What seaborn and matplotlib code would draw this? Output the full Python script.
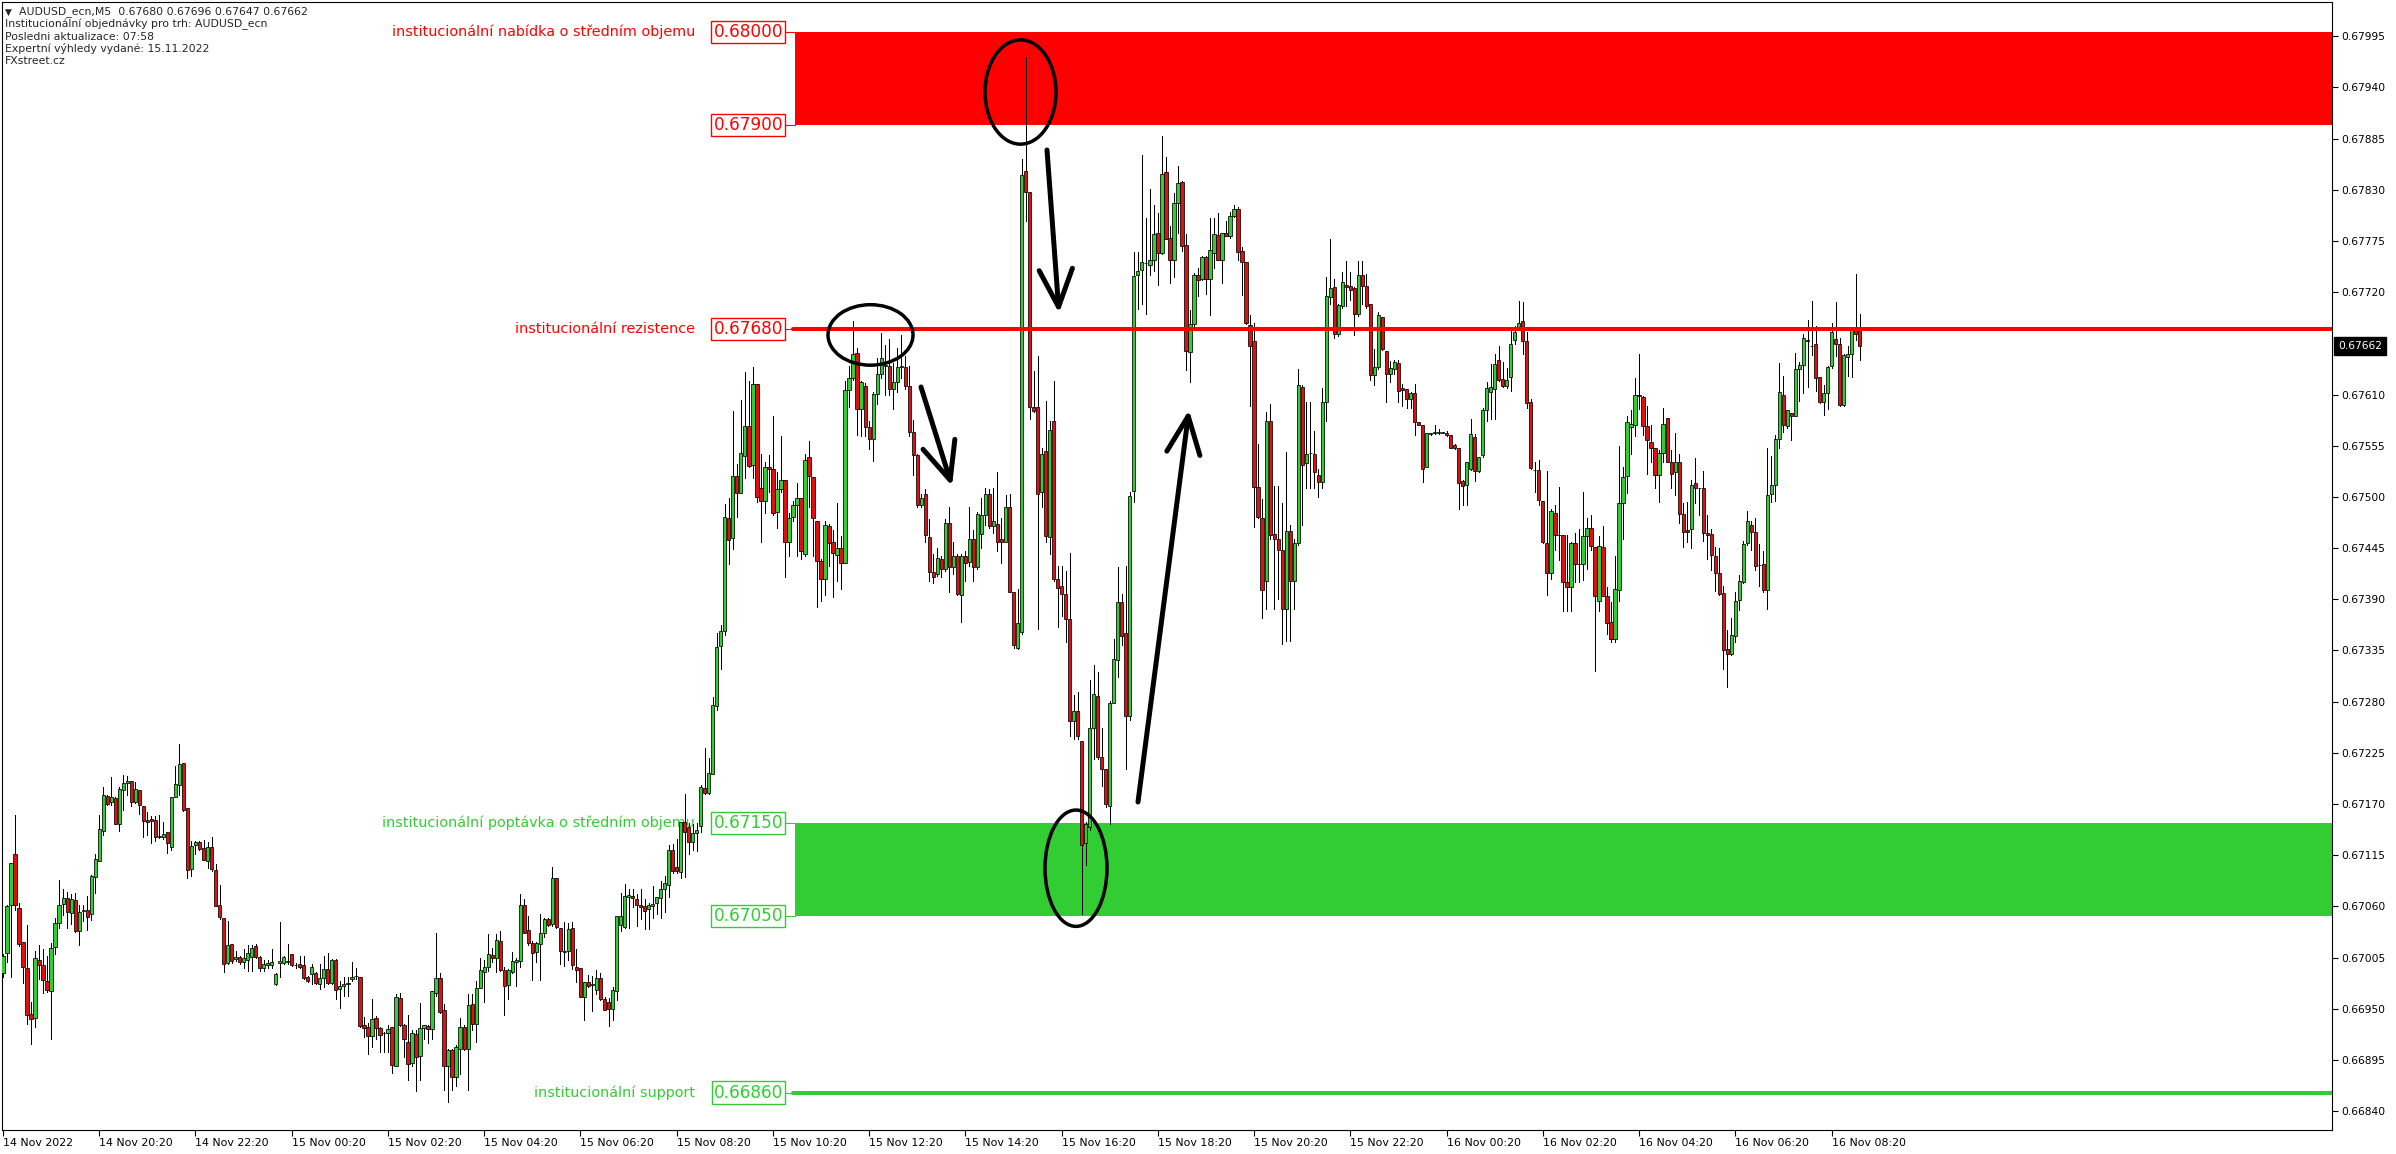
import numpy as np
import pandas as pd
import matplotlib
matplotlib.use("Agg")
import matplotlib.pyplot as plt
import matplotlib.transforms as mtransforms
from matplotlib.patches import Ellipse
import seaborn as sns

# ---------------- data (prices in points, 1 point = 0.00001) ----------------
open_pts = [
    66988,67010,67061,67116,67058,67022,66994,66944,66940,67002,
    66997,66980,66969,67016,67042,67063,67069,67053,67067,67034,
    67055,67056,67052,67092,67109,67141,67179,67172,67176,67149,
    67185,67193,67195,67172,67185,67168,67153,67154,67153,67134,
    67135,67140,67124,67178,67190,67214,67166,67100,67126,67129,
    67123,67109,67124,67099,67061,67048,66999,67020,67003,67006,
    67000,67002,67006,67017,67006,66994,66997,66997,66977,66999,
    66999,67000,67009,66997,66998,66997,66984,66987,66988,66977,
    66983,66993,66978,67002,66971,66974,66977,66982,66985,66984,
    66932,66930,66921,66940,66929,66924,66924,66930,66888,66962,
    66932,66914,66892,66923,66899,66929,66931,66928,66967,66983,
    66949,66889,66906,66877,66907,66930,66907,66955,66934,66972,
    66989,66995,67008,67004,67023,66992,66976,66990,67000,67001,
    67061,67035,67021,67011,67020,67031,67046,67041,67090,67037,
    67011,67012,67037,66995,66994,66963,66979,66975,66970,66983,
    66961,66957,66950,66969,67040,67038,67070,67071,67068,67061,
    67060,67057,67060,67064,67069,67079,67083,67121,67102,67097,
    67151,67145,67129,67139,67146,67187,67182,67202,67275,67340,
    67356,67477,67456,67522,67504,67544,67576,67534,67621,67510,
    67496,67532,67530,67484,67508,67518,67452,67478,67491,67499,
    67439,67543,67521,67474,67431,67412,67469,67452,67438,67445,
    67429,67615,67628,67655,67594,67619,67575,67562,67611,67632,
    67641,67641,67616,67623,67640,67640,67619,67570,67545,67491,
    67503,67457,67419,67417,67433,67423,67472,67425,67436,67395,
    67436,67430,67455,67425,67460,67480,67503,67469,67471,67455,
    67452,67489,67398,67338,67355,67850,67828,67597,67597,67505,
    67549,67457,67581,67412,67404,67396,67369,67259,67270,67238,
    67128,67145,67252,67286,67221,67208,67168,67278,67325,67387,
    67354,67265,67506,67738,67744,67751,67749,67755,67783,67762,
    67849,67778,67755,67816,67838,67771,67656,67686,67738,67734,
    67758,67734,67762,67781,67755,67783,67780,67802,67809,67764,
    67752,67685,67667,67511,67477,67410,67581,67460,67455,67443,
    67380,67463,67410,67450,67618,67536,67547,67546,67524,67516,
    67602,67715,67725,67675,67705,67728,67727,67724,67696,67738,
    67727,67707,67631,67640,67693,67657,67632,67637,67644,67617,
    67616,67605,67612,67580,67577,67532,67568,67569,67569,67569,
    67569,67567,67556,67552,67517,67513,67530,67564,67528,67545,
    67593,67613,67616,67647,67627,67619,67629,67669,67681,67689,
    67667,67602,67529,67529,67496,67450,67418,67483,67459,67459,
    67409,67403,67450,67428,67428,67458,67467,67446,67388,67446,
    67394,67366,67347,67400,67493,67522,67575,67577,67610,67607,
    67576,67559,67552,67523,67547,67585,67538,67527,67538,67482,
    67464,67465,67515,67509,67509,67461,67460,67437,67418,67397,
    67337,67331,67351,67389,67409,67450,67470,67462,67427,67428,
    67400,67503,67513,67562,67609,67576,67590,67587,67637,67642,
    67669,67662,67664,67629,67602,67612,67641,67670,67664,67599,
    67650,67653,67681,67680,
]
high_pts = [
    67009,67062,67107,67158,67064,67022,67040,66957,67012,67019,
    67014,67007,67021,67048,67088,67079,67075,67073,67074,67062,
    67062,67071,67094,67116,67158,67188,67180,67199,67178,67188,
    67201,67200,67195,67194,67185,67168,67161,67157,67157,67158,
    67151,67140,67178,67211,67234,67214,67166,67130,67130,67130,
    67131,67129,67134,67106,67083,67048,67044,67020,67012,67007,
    67014,67018,67019,67020,67007,67002,67002,67014,66988,67043,
    67007,67020,67009,66999,67007,67007,66985,66998,66989,66998,
    67007,67010,67003,67003,66980,66984,66984,67000,66994,66984,
    66941,66935,66960,66942,66930,66925,66932,66930,66966,66967,
    66934,66943,66927,66927,66956,66933,66932,66969,67031,66988,
    66955,66907,66907,66911,66940,66932,66966,66966,66980,67004,
    67002,67030,67015,67030,67033,66995,66993,67011,67005,67073,
    67068,67050,67023,67022,67052,67048,67047,67102,67091,67037,
    67043,67042,67043,67014,66994,66979,66986,66985,66992,66988,
    66963,66962,66973,67050,67074,67084,67079,67079,67073,67079,
    67068,67064,67082,67070,67087,67093,67126,67127,67132,67151,
    67181,67150,67148,67150,67190,67230,67219,67285,67354,67362,
    67492,67499,67592,67535,67604,67634,67625,67640,67621,67546,
    67537,67545,67587,67527,67565,67518,67483,67496,67515,67499,
    67546,67560,67521,67474,67433,67474,67471,67464,67493,67458,
    67625,67641,67689,67660,67625,67622,67581,67613,67649,67676,
    67663,67670,67644,67660,67674,67651,67641,67583,67546,67503,
    67508,67476,67439,67445,67436,67476,67489,67452,67439,67439,
    67442,67489,67464,67484,67499,67510,67508,67510,67527,67477,
    67502,67503,67398,67401,67863,67973,67828,67635,67651,67553,
    67603,67581,67625,67426,67426,67420,67440,67287,67290,67238,
    67151,67303,67319,67312,67252,67208,67281,67347,67425,67396,
    67426,67505,67763,67763,67867,67800,67831,67814,67805,67888,
    67865,67791,67827,67855,67839,67782,67701,67741,67746,67759,
    67759,67800,67800,67805,67784,67796,67806,67814,67812,67768,
    67752,67695,67687,67557,67498,67591,67600,67512,67512,67493,
    67548,67470,67455,67637,67620,67602,67602,67571,67530,67617,
    67736,67777,67734,67707,67742,67753,67742,67725,67753,67753,
    67739,67707,67659,67699,67693,67657,67646,67647,67647,67621,
    67616,67613,67621,67580,67577,67569,67569,67577,67573,67570,
    67571,67567,67557,67552,67518,67538,67584,67568,67543,67595,
    67623,67643,67653,67662,67645,67639,67679,67684,67710,67709,
    67677,67605,67538,67540,67496,67528,67487,67491,67511,67459,
    67459,67452,67461,67466,67505,67477,67480,67446,67458,67469,
    67403,67387,67437,67555,67532,67587,67593,67628,67653,67608,
    67598,67577,67553,67550,67595,67585,67550,67569,67546,67493,
    67495,67518,67542,67510,67528,67480,67466,67446,67445,67404,
    67357,67370,67398,67416,67453,67485,67474,67477,67449,67442,
    67553,67544,67566,67644,67630,67593,67590,67655,67645,67675,
    67690,67710,67684,67629,67620,67641,67687,67709,67671,67653,
    67662,67682,67740,67696,
]
low_pts = [
    66984,67000,66984,67056,67017,66978,66934,66912,66930,66982,
    66967,66968,66918,67009,67037,67051,67037,67041,67032,67018,
    67044,67035,67045,67074,67109,67137,67169,67169,67148,67141,
    67164,67180,67168,67171,67159,67135,67137,67128,67130,67133,
    67132,67117,67121,67177,67180,67162,67091,67093,67116,67121,
    67110,67101,67098,67060,67046,66989,66998,66999,67001,66998,
    66994,66991,66991,67005,66991,66991,66994,66994,66976,66984,
    66998,66998,66996,66994,66994,66982,66979,66977,66977,66971,
    66973,66977,66977,66961,66951,66964,66964,66980,66982,66930,
    66920,66901,66909,66918,66903,66904,66903,66881,66888,66931,
    66898,66873,66888,66862,66873,66918,66913,66918,66964,66945,
    66863,66850,66863,66867,66880,66906,66863,66927,66914,66972,
    66957,66991,67000,66989,66991,66943,66961,66988,66974,66995,
    67031,67018,66981,67000,66981,67027,67039,67039,67037,66998,
    66996,67002,66993,66979,66963,66938,66973,66948,66966,66959,
    66949,66931,66938,66959,67034,67037,67037,67059,67039,67046,
    67036,67036,67048,67052,67048,67054,67070,67096,67096,67091,
    67092,67116,67121,67119,67140,67181,67181,67202,67271,67315,
    67352,67428,67444,67478,67504,67520,67532,67520,67495,67451,
    67483,67505,67480,67467,67505,67414,67436,67474,67436,67433,
    67436,67489,67436,67382,67388,67395,67426,67392,67410,67401,
    67429,67597,67626,67567,67565,67565,67551,67539,67600,67628,
    67609,67609,67594,67613,67628,67616,67565,67524,67489,67489,
    67452,67410,67407,67415,67414,67420,67398,67417,67395,67366,
    67410,67426,67410,67423,67445,67470,67467,67461,67442,67429,
    67452,67398,67338,67337,67353,67796,67584,67591,67358,67489,
    67452,67439,67410,67360,67372,67344,67243,67240,67240,67052,
    67104,67142,67218,67218,67189,67167,67148,67278,67306,67341,
    67208,67260,67495,67702,67707,67696,67738,67743,67728,67761,
    67777,67730,67736,67784,67764,67636,67623,67680,67716,67733,
    67718,67695,67746,67754,67730,67780,67778,67801,67755,67717,
    67686,67598,67468,67477,67370,67380,67455,67380,67390,67342,
    67345,67345,67380,67448,67470,67509,67509,67509,67500,67509,
    67582,67707,67671,67673,67703,67705,67712,67674,67694,67707,
    67703,67626,67620,67637,67658,67602,67623,67632,67602,67598,
    67595,67595,67567,67577,67516,67532,67567,67568,67568,67569,
    67565,67553,67551,67487,67491,67491,67529,67517,67527,67543,
    67581,67584,67584,67624,67618,67617,67614,67664,67680,67653,
    67595,67530,67505,67491,67450,67395,67412,67443,67432,67377,
    67377,67377,67409,67409,67411,67423,67443,67313,67377,67394,
    67353,67344,67344,67388,67455,67504,67546,67565,67594,67566,
    67525,67537,67510,67494,67537,67537,67509,67502,67472,67446,
    67452,67445,67493,67480,67453,67433,67421,67399,67395,67315,
    67296,67330,67344,67378,67407,67448,67443,67421,67404,67398,
    67380,67494,67496,67552,67570,67574,67561,67587,67603,67612,
    67618,67652,67614,67601,67588,67594,67639,67651,67598,67598,
    67630,67629,67669,67647,
]
close_pts = [
    67007,67060,67107,67061,67020,66995,66943,66939,67005,66997,
    66981,66970,67015,67042,67062,67069,67054,67068,67034,67054,
    67056,67049,67093,67111,67143,67180,67170,67177,67149,67186,
    67193,67195,67172,67186,67169,67152,67151,67152,67134,67136,
    67138,67128,67178,67191,67213,67164,67099,67125,67129,67122,
    67110,67124,67100,67060,67049,66998,67019,67001,67006,67000,
    67004,67010,67015,67006,66994,66998,66999,67000,66987,67001,
    67006,67001,66997,66997,66995,66983,66980,66995,66978,66983,
    66993,66978,67002,66970,66974,66977,66978,66984,66985,66931,
    66929,66921,66939,66929,66922,66924,66928,66890,66963,66932,
    66917,66891,66924,66898,66929,66932,66928,66969,66983,66947,
    66889,66906,66877,66909,66930,66907,66954,66934,66972,66992,
    66995,67009,67004,67024,66992,66974,66992,67001,67002,67061,
    67031,67021,67010,67021,67031,67046,67040,67091,67038,67012,
    67012,67036,66997,66992,66963,66979,66974,66977,66983,66960,
    66949,66950,66970,67050,67050,67071,67072,67069,67061,67059,
    67055,67061,67063,67070,67079,67085,67121,67098,67098,67151,
    67140,67129,67139,67142,67188,67182,67203,67276,67339,67356,
    67478,67454,67522,67504,67547,67576,67533,67621,67500,67496,
    67532,67530,67483,67508,67518,67452,67477,67491,67499,67442,
    67540,67522,67477,67431,67412,67470,67450,67440,67445,67429,
    67615,67628,67654,67594,67623,67575,67562,67611,67632,67649,
    67642,67616,67623,67640,67640,67619,67570,67545,67491,67499,
    67459,67419,67414,67434,67423,67472,67425,67437,67396,67436,
    67429,67455,67425,67482,67480,67503,67469,67474,67452,67452,
    67489,67398,67341,67365,67846,67828,67597,67592,67503,67546,
    67458,67572,67412,67402,67396,67369,67259,67270,67243,67126,
    67148,67252,67288,67221,67208,67170,67278,67326,67387,67350,
    67265,67501,67737,67743,67752,67751,67755,67782,67762,67847,
    67777,67755,67816,67837,67770,67657,67686,67738,67733,67758,
    67734,67765,67782,67754,67783,67780,67802,67809,67763,67752,
    67687,67662,67511,67478,67400,67581,67459,67455,67443,67380,
    67463,67410,67450,67620,67534,67546,67547,67527,67516,67602,
    67716,67724,67675,67706,67731,67726,67722,67696,67738,67727,
    67705,67631,67640,67695,67659,67632,67639,67645,67614,67615,
    67605,67612,67580,67577,67530,67569,67568,67569,67569,67569,
    67566,67553,67552,67515,67512,67537,67568,67528,67543,67593,
    67617,67618,67643,67626,67619,67626,67664,67677,67687,67667,
    67601,67531,67529,67497,67451,67418,67485,67459,67459,67408,
    67403,67450,67428,67428,67458,67467,67447,67393,67447,67394,
    67364,67347,67401,67493,67521,67580,67578,67610,67608,67576,
    67561,67552,67523,67547,67578,67538,67525,67538,67482,67462,
    67462,67513,67509,67509,67461,67459,67438,67418,67396,67336,
    67331,67352,67388,67410,67449,67474,67462,67426,67427,67400,
    67502,67513,67562,67613,67577,67593,67587,67637,67642,67671,
    67667,67662,67628,67602,67612,67640,67677,67664,67599,67652,
    67653,67681,67675,67662,
]
POINT = 1e-5

time_labels = [
    "14 Nov 2022", "14 Nov 20:20", "14 Nov 22:20", "15 Nov 00:20", "15 Nov 02:20",
    "15 Nov 04:20", "15 Nov 06:20", "15 Nov 08:20", "15 Nov 10:20", "15 Nov 12:20",
    "15 Nov 14:20", "15 Nov 16:20", "15 Nov 18:20", "15 Nov 20:20", "15 Nov 22:20",
    "16 Nov 00:20", "16 Nov 02:20", "16 Nov 04:20", "16 Nov 06:20", "16 Nov 08:20",
]
bars_per_label = 24

price_tick_labels = [
    "0.66840", "0.66895", "0.66950", "0.67005", "0.67060", "0.67115", "0.67170",
    "0.67225", "0.67280", "0.67335", "0.67390", "0.67445", "0.67500", "0.67555",
    "0.67610", "0.67720", "0.67775", "0.67830", "0.67885", "0.67940", "0.67995",
]
last_price = 0.67662

supply_zone = (0.67900, 0.68000)
resistance_level = 0.67680
demand_zone = (0.67050, 0.67150)
support_level = 0.66860

supply_text = "institucionální nabídka o středním objemu"
resistance_text = "institucionální rezistence"
demand_text = "institucionální poptávka o středním objemu"
support_text = "institucionální support"

header_first = "AUDUSD_ecn,M5  0.67680 0.67696 0.67647 0.67662"
header_lines = [
    "Institucionální objednávky pro trh: AUDUSD_ecn",
    "Posledni aktualizace: 07:58",
    "Expertní výhledy vydané: 15.11.2022",
    "FXstreet.cz",
]

# ---------------- style ----------------
sns.set_theme(style="white")
plt.rcParams["font.family"] = ["DejaVu Sans"]

RED = "#ff0000"
GREEN = "#32cd32"
BULL = "#32cd32"
BEAR = "#e01010"

W, H = 2396, 1154
fig = plt.figure(figsize=(W / 100, H / 100), dpi=100)
fig.patch.set_facecolor("white")
AX_L, AX_R, AX_T, AX_B = 2, 2332, 2, 1130
ax = fig.add_axes([AX_L / W, (H - AX_B) / H, (AX_R - AX_L) / W, (AX_B - AX_T) / H])
ax.set_facecolor("white")


def px2x(px):
    return (px - 3) / 4.01


def px2y(py):
    return 0.66860 + (1092.5 - py) * 1.0745e-5


ax.set_xlim(px2x(AX_L), px2x(AX_R))
ax.set_ylim(px2y(AX_B), px2y(AX_T))

df = pd.DataFrame({
    "open": np.array(open_pts) * POINT,
    "high": np.array(high_pts) * POINT,
    "low": np.array(low_pts) * POINT,
    "close": np.array(close_pts) * POINT,
})
df["x"] = np.arange(len(df))
top = df[["open", "high", "close"]].max(axis=1)
bot = df[["open", "low", "close"]].min(axis=1)

# zones (behind candles)
zone_xmin = (795 - AX_L) / (AX_R - AX_L)
ax.axhspan(*supply_zone, xmin=zone_xmin, xmax=1, color=RED, lw=0, zorder=1)
ax.axhspan(*demand_zone, xmin=zone_xmin, xmax=1, color=GREEN, lw=0, zorder=1)

# left descriptive labels
txt_x = px2x(695)
for lvl, s, col in [(supply_zone[1], supply_text, RED), (resistance_level, resistance_text, RED),
                    (demand_zone[1], demand_text, GREEN), (support_level, support_text, GREEN)]:
    ax.text(txt_x, lvl, s, ha="right", va="center", fontsize=10.4, color=col, zorder=2)

# candles
ax.vlines(df["x"], bot, top, colors="black", linewidth=0.72, zorder=3, antialiased=False)
body_bottom = np.minimum(df["open"], df["close"])
body_h = np.maximum(np.abs(df["close"] - df["open"]), 0.3 * POINT)
colors = np.where(df["close"] >= df["open"], BULL, BEAR)
ax.bar(df["x"], body_h, bottom=body_bottom, width=0.82, color=colors,
       edgecolor="black", linewidth=0.55, zorder=4)

# horizontal levels
line_x = [px2x(793), px2x(AX_R)]
sns.lineplot(x=line_x, y=[resistance_level] * 2, color=RED, linewidth=2.9, ax=ax, zorder=5)
sns.lineplot(x=line_x, y=[support_level] * 2, color=GREEN, linewidth=2.9, ax=ax, zorder=5)

# price boxes
box_x = px2x(783)
for lvl, col in [(supply_zone[1], RED), (supply_zone[0], RED), (resistance_level, RED),
                 (demand_zone[1], GREEN), (demand_zone[0], GREEN), (support_level, GREEN)]:
    ax.text(box_x, lvl, f"{lvl:.5f}", ha="right", va="center", fontsize=12.2, color=col, zorder=6,
            bbox=dict(boxstyle="square,pad=0.12", fc="white", ec=col, lw=1.0))
    ax.plot([px2x(785), px2x(795)], [lvl, lvl], color=col, lw=0.8, zorder=5)

# hand-drawn style annotations
ell_lw = 2.5
for cx, cy, wpx, hprice in [(870.5, 0.67674, 85, 0.00065),
                            (1020.5, 0.67935, 71, 0.00112),
                            (1076, 0.67101, 62, 0.00125)]:
    ax.add_patch(Ellipse((px2x(cx), cy), wpx / 4.01, hprice, fill=False,
                         ec="black", lw=ell_lw, zorder=7))

for (x0, y0), (x1, y1) in [((921, 387), (952, 486)),
                           ((1047, 150), (1059, 313)),
                           ((1138, 802), (1189, 410))]:
    ax.annotate("", xy=(px2x(x1), px2y(y1)), xytext=(px2x(x0), px2y(y0)),
                arrowprops=dict(arrowstyle="->,head_length=1.35,head_width=0.6",
                                lw=3.6, color="black", mutation_scale=20,
                                shrinkA=0, shrinkB=0),
                zorder=7)

# axes / ticks
for sp in ax.spines.values():
    sp.set_visible(True)
    sp.set_color("black")
    sp.set_linewidth(0.8)

ax.yaxis.tick_right()
ax.set_yticks([float(t) for t in price_tick_labels])
ax.set_yticklabels(price_tick_labels)
ax.tick_params(axis="y", which="major", right=True, left=False, direction="out",
               length=4, width=0.8, pad=3, labelsize=7.7, colors="black")

ax.set_xticks(np.arange(len(time_labels)) * bars_per_label)
ax.set_xticklabels(time_labels, ha="left")
ax.tick_params(axis="x", which="major", bottom=True, direction="out",
               length=4, width=0.8, pad=2, labelsize=7.9, colors="black")
ax.grid(False)

# current price marker on the axis
blend = mtransforms.blended_transform_factory(ax.transAxes, ax.transData)
ax.text(1 + 6 / (AX_R - AX_L), last_price, f"{last_price:.5f}", transform=blend,
        ha="left", va="center", color="white", fontsize=7.7, clip_on=False, zorder=8,
        bbox=dict(boxstyle="square,pad=0.4", fc="black", ec="black"))

# header text
fig.text(5 / W, 1 - 12 / H, "\u25bc", fontsize=6.5, va="center", ha="left",
         family=["DejaVu Sans"])
fig.text(19 / W, 1 - 12 / H, header_first, fontsize=7.8, va="center", ha="left")
for k, s in enumerate(header_lines):
    fig.text(5 / W, 1 - (24.3 + 12.3 * k) / H, s, fontsize=7.8, va="center", ha="left")

fig.savefig("out.png", dpi=100, facecolor="white")
